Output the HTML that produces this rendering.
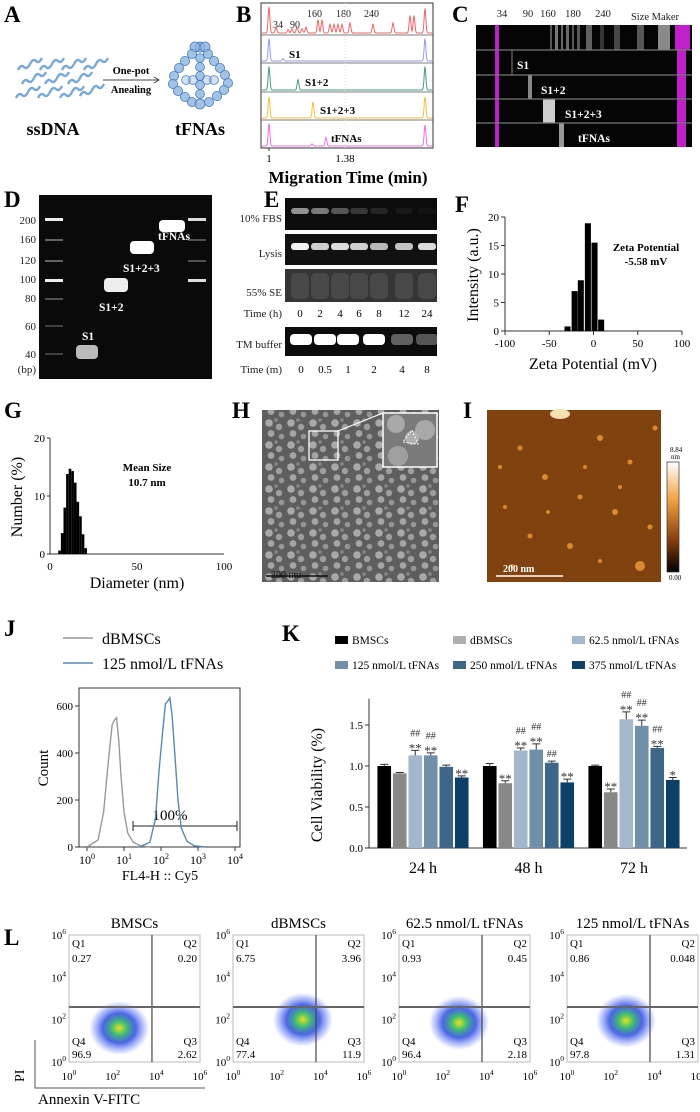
<!DOCTYPE html>
<html><head><meta charset="utf-8">
<style>
html,body{margin:0;padding:0;background:#fff;}
svg{display:block;font-family:"Liberation Serif",serif;}
.pl{font-family:"Liberation Serif",serif;font-weight:bold;font-size:23px;}
</style></head>
<body>
<svg id="fig" width="700" height="1112" viewBox="0 0 700 1112" xmlns="http://www.w3.org/2000/svg">
<defs>
 <linearGradient id="cbar" x1="0" y1="0" x2="0" y2="1">
  <stop offset="0" stop-color="#fff"/><stop offset="0.35" stop-color="#f0a040"/><stop offset="0.7" stop-color="#8a4010"/><stop offset="1" stop-color="#000"/>
 </linearGradient>
 <pattern id="tem" width="22" height="22" patternUnits="userSpaceOnUse">
  <rect width="22" height="22" fill="#5e5e5e"/>
  <circle cx="5" cy="5" r="3.8" fill="#a9a9a9"/>
  <circle cx="15" cy="9" r="3.2" fill="#9e9e9e"/>
  <circle cx="7" cy="15.5" r="3.4" fill="#a4a4a4"/>
  <circle cx="17.5" cy="18.5" r="2.8" fill="#969696"/>
  <circle cx="12" cy="2" r="1.8" fill="#888"/>
 </pattern>
 <radialGradient id="cloud">
  <stop offset="0" stop-color="#e8e020"/><stop offset="0.25" stop-color="#40c070"/><stop offset="0.55" stop-color="#2040e0" stop-opacity="0.8"/><stop offset="1" stop-color="#4060ff" stop-opacity="0"/>
 </radialGradient>
</defs>

<!-- Panel A -->
<g>
 <text class="pl" x="4" y="22">A</text>
 <g fill="none" stroke="#7aa8d8" stroke-width="2.4">
  <path d="M18,70 q3,-6 6,-3 q3,3 6,-3 q3,-6 6,-3 q3,3 6,-3"/>
  <path d="M40,70 q3,-6 6,-3 q3,3 6,-3 q3,-6 6,-3 q3,3 6,-3"/>
  <path d="M62,70 q3,-6 6,-3 q3,3 6,-3 q3,-6 6,-3 q3,3 6,-3"/>
  <path d="M84,70 q3,-6 6,-3 q3,3 6,-3 q3,-6 6,-3 q3,3 6,-3"/>
  <path d="M22,84 q3,-6 6,-3 q3,3 6,-3 q3,-6 6,-3 q3,3 6,-3"/>
  <path d="M45,84 q3,-6 6,-3 q3,3 6,-3 q3,-6 6,-3 q3,3 6,-3"/>
  <path d="M68,84 q3,-6 6,-3 q3,3 6,-3 q3,-6 6,-3 q3,3 6,-3"/>
  <path d="M16,98 q3,-6 6,-3 q3,3 6,-3 q3,-6 6,-3 q3,3 6,-3"/>
  <path d="M38,98 q3,-6 6,-3 q3,3 6,-3 q3,-6 6,-3 q3,3 6,-3"/>
  <path d="M60,98 q3,-6 6,-3 q3,3 6,-3 q3,-6 6,-3 q3,3 6,-3"/>
  <path d="M80,96 q3,-6 6,-3 q3,3 6,-3 q3,-6 6,-3 q3,3 6,-3"/>
 </g>
 <line x1="103" y1="80" x2="158" y2="80" stroke="#444" stroke-width="1"/>
 <path d="M154,77 L159,80 L154,83" fill="none" stroke="#444"/>
 <text x="131" y="74" font-size="10.5" font-weight="bold" text-anchor="middle">One-pot</text>
 <text x="131" y="93" font-size="10.5" font-weight="bold" text-anchor="middle">Anealing</text>
 <g fill="#8ab4e0" fill-opacity="0.8" stroke="#4a7ab8" stroke-width="0.8">
  <circle cx="200" cy="47" r="5"/><circle cx="195" cy="47" r="5"/><circle cx="205" cy="47" r="5"/>
  <circle cx="192" cy="54" r="4.6"/><circle cx="185" cy="61" r="4.6"/><circle cx="179" cy="68" r="4.6"/><circle cx="174" cy="76" r="4.6"/><circle cx="173" cy="84" r="4.6"/><circle cx="178" cy="91" r="4.6"/><circle cx="185" cy="97" r="4.6"/><circle cx="192" cy="102" r="4.6"/><circle cx="200" cy="104" r="5"/>
  <circle cx="208" cy="54" r="4.6"/><circle cx="214" cy="61" r="4.6"/><circle cx="220" cy="68" r="4.6"/><circle cx="225" cy="75" r="4.6"/><circle cx="228" cy="83" r="4.6"/><circle cx="224" cy="90" r="4.6"/><circle cx="217" cy="96" r="4.6"/><circle cx="209" cy="102" r="4.6"/>
  <circle cx="200" cy="58" r="4.4"/><circle cx="200" cy="67" r="4.4"/><circle cx="200" cy="76" r="4.4"/><circle cx="200" cy="85" r="4.4"/><circle cx="200" cy="94" r="4.4"/>
  <circle cx="186" cy="80" r="4.4" fill-opacity="0.4"/><circle cx="193" cy="80" r="4.4" fill-opacity="0.4"/><circle cx="207" cy="80" r="4.4" fill-opacity="0.4"/><circle cx="214" cy="80" r="4.4" fill-opacity="0.4"/>
 </g>
 <text x="53" y="135" font-size="18" font-weight="bold" text-anchor="middle">ssDNA</text>
 <text x="200" y="135" font-size="18" font-weight="bold" text-anchor="middle">tFNAs</text>
</g>

<!-- Panel B -->
<g id="panelB">
 <text class="pl" x="236" y="22">B</text>
 <rect x="261" y="3" width="172" height="145" fill="none" stroke="#333" stroke-width="1"/>
 <text x="269" y="162" font-size="11" text-anchor="middle">1</text>
 <text x="345" y="162" font-size="11" text-anchor="middle">1.38</text>
 <text x="348" y="183" font-size="17" font-weight="bold" text-anchor="middle">Migration Time (min)</text>
 <g font-size="10" fill="#222">
  <text x="273" y="28">34</text>
  <text x="290" y="28">90</text>
  <text x="307" y="17">160</text>
  <text x="336" y="17">180</text>
  <text x="364" y="17">240</text>
 </g>
 <g font-size="11" font-weight="bold">
  <text x="289" y="58">S1</text>
  <text x="305" y="86">S1+2</text>
  <text x="320" y="114">S1+2+3</text>
  <text x="331" y="142">tFNAs</text>
 </g>
</g>

<!-- Panel C -->
<g>
 <text class="pl" x="452" y="22">C</text>
 <g font-size="10.5" fill="#222">
  <text x="502" y="17" text-anchor="middle">34</text>
  <text x="528" y="17" text-anchor="middle">90</text>
  <text x="548" y="17" text-anchor="middle">160</text>
  <text x="573" y="17" text-anchor="middle">180</text>
  <text x="603" y="17" text-anchor="middle">240</text>
  <text x="655" y="20" text-anchor="middle">Size Maker</text>
 </g>
 <rect x="476" y="25" width="216" height="122" fill="#050505"/>
 <g fill="#aaa">
  <rect x="550" y="25" width="2" height="25" opacity="0.5"/><rect x="555" y="25" width="3" height="25" opacity="0.7"/><rect x="561" y="25" width="2" height="25" opacity="0.6"/><rect x="566" y="25" width="3" height="25" opacity="0.6"/><rect x="572" y="25" width="2" height="25" opacity="0.5"/><rect x="577" y="25" width="3" height="25" opacity="0.5"/><rect x="586" y="25" width="6" height="25" opacity="0.55"/><rect x="600" y="25" width="4" height="25" opacity="0.3"/><rect x="614" y="25" width="6" height="25" opacity="0.4"/><rect x="637" y="25" width="7" height="25" opacity="0.5"/><rect x="658" y="25" width="12" height="25" opacity="0.8"/>
 </g>
 <g fill="#c020c8">
  <rect x="495" y="25" width="4" height="122"/>
  <rect x="675" y="25" width="15" height="25"/>
  <rect x="677" y="50" width="9" height="97"/>
 </g>
 <rect x="528" y="75" width="4" height="24" fill="#888"/>
 <rect x="543" y="99" width="12" height="24" fill="#ccc"/>
 <rect x="559" y="123" width="5" height="24" fill="#999"/>
 <rect x="511" y="50" width="2" height="25" fill="#444"/>
 <g stroke="#777" stroke-width="1.2">
  <line x1="476" y1="50" x2="692" y2="50"/><line x1="476" y1="75" x2="692" y2="75"/><line x1="476" y1="99" x2="692" y2="99"/><line x1="476" y1="123" x2="692" y2="123"/>
 </g>
 <g fill="#fff" font-size="11.5" font-weight="bold">
  <text x="517" y="69">S1</text>
  <text x="541" y="94">S1+2</text>
  <text x="565" y="118">S1+2+3</text>
  <text x="578" y="142">tFNAs</text>
 </g>
</g>

<!-- Panel D -->
<g>
 <text class="pl" x="4" y="207">D</text>
 <rect x="39" y="195" width="173" height="184" fill="#0a0a0a"/>
 <g font-size="11" text-anchor="end" fill="#222">
  <text x="36" y="224">200</text>
  <text x="36" y="243">160</text>
  <text x="36" y="264">120</text>
  <text x="36" y="283">100</text>
  <text x="36" y="302">80</text>
  <text x="36" y="330">60</text>
  <text x="36" y="358">40</text>
  <text x="36" y="373">(bp)</text>
 </g>
 <g fill="#bbb">
  <rect x="45" y="218" width="18" height="3" fill="#eee"/><rect x="45" y="239" width="18" height="2" opacity="0.5"/><rect x="45" y="260" width="18" height="2" opacity="0.5"/><rect x="45" y="279" width="18" height="3" fill="#eee"/><rect x="45" y="298" width="18" height="2" opacity="0.4"/><rect x="45" y="325" width="18" height="2" opacity="0.3"/><rect x="45" y="353" width="18" height="2" opacity="0.3"/>
  <rect x="188" y="218" width="18" height="3" fill="#ddd"/><rect x="188" y="239" width="18" height="2" opacity="0.4"/><rect x="188" y="260" width="18" height="2" opacity="0.4"/><rect x="188" y="279" width="18" height="3" fill="#ddd"/>
 </g>
 <rect x="76" y="345" width="22" height="14" rx="4" fill="#bbb"/>
 <rect x="104" y="278" width="24" height="14" rx="4" fill="#eee"/>
 <rect x="130" y="241" width="24" height="13" rx="4" fill="#fff"/>
 <rect x="159" y="220" width="26" height="12" rx="4" fill="#fff"/>
 <g fill="#fff" font-size="11.5" font-weight="bold">
  <text x="82" y="340">S1</text>
  <text x="99" y="311">S1+2</text>
  <text x="123" y="272">S1+2+3</text>
  <text x="158" y="240">tFNAs</text>
 </g>
</g>

<!-- Panel E -->
<g>
 <text class="pl" x="264" y="207">E</text>
 <rect x="285" y="198" width="152" height="32" fill="#0c0c0c"/>
 <rect x="285" y="234" width="152" height="31" fill="#111"/>
 <rect x="285" y="269" width="152" height="33" fill="#353535"/>
 <rect x="285" y="327" width="152" height="29" fill="#0c0c0c"/>
 <g id="eBands"></g>
 <g font-size="11" fill="#222" text-anchor="end">
  <text x="282" y="222">10% FBS</text>
  <text x="282" y="257">Lysis</text>
  <text x="282" y="296">55% SE</text>
  <text x="282" y="317">Time (h)</text>
  <text x="282" y="348">TM buffer</text>
  <text x="282" y="373">Time (m)</text>
 </g>
</g>

<!-- Panel F -->
<g id="panelF">
 <text class="pl" x="455" y="212">F</text>
 <text transform="translate(478,275) rotate(-90)" font-size="16" text-anchor="middle">Intensity (a.u.)</text>
 <text x="593" y="369" font-size="16" text-anchor="middle">Zeta Potential  (mV)</text>
 <text x="646" y="251" font-size="11" font-weight="bold" text-anchor="middle">Zeta Potential</text>
 <text x="646" y="265" font-size="11" font-weight="bold" text-anchor="middle">-5.58 mV</text>
</g>

<!-- Panel G -->
<g id="panelG">
 <text class="pl" x="4" y="418">G</text>
 <text transform="translate(22,497) rotate(-90)" font-size="16" text-anchor="middle">Number (%)</text>
 <text x="137" y="588" font-size="16" text-anchor="middle">Diameter  (nm)</text>
 <text x="147" y="471" font-size="11" font-weight="bold" text-anchor="middle">Mean Size</text>
 <text x="147" y="486" font-size="11" font-weight="bold" text-anchor="middle">10.7  nm</text>
</g>

<!-- Panel H -->
<g>
 <text class="pl" x="232" y="418">H</text>
 <rect x="262" y="410" width="177" height="172" fill="url(#tem)"/>
 <rect x="309" y="431" width="29" height="29" fill="none" stroke="#fff" stroke-width="1.3"/>
 <line x1="338" y1="431" x2="383" y2="413" stroke="#fff" stroke-width="1.2"/>
 <rect x="383" y="413" width="54" height="54" fill="#7a7a7a" stroke="#fff" stroke-width="1.5"/>
 <circle cx="396" cy="424" r="9" fill="#a8a8a8"/>
 <circle cx="425" cy="430" r="10" fill="#a8a8a8"/>
 <circle cx="398" cy="456" r="10" fill="#a0a0a0"/>
 <circle cx="412" cy="438" r="7" fill="#b0b0b0"/>
 <path d="M412,430 L418,444 L403,442 Z" fill="none" stroke="#fff" stroke-dasharray="2,1.5"/>
 <line x1="266" y1="576" x2="328" y2="576" stroke="#111" stroke-width="1.5"/>
 <text x="271" y="578" font-size="10" fill="#111">200 nm</text>
</g>

<!-- Panel I -->
<g>
 <text class="pl" x="463" y="418">I</text>
 <rect x="487" y="410" width="174" height="172" fill="#80420f"/>
 <g fill="#d98a30">
  <ellipse cx="560" cy="414" rx="10" ry="5" fill="#f5e0b0"/>
  <circle cx="520" cy="448" r="2.5"/><circle cx="600" cy="438" r="3"/><circle cx="630" cy="462" r="2.5"/><circle cx="545" cy="477" r="3"/><circle cx="580" cy="497" r="2.5"/><circle cx="505" cy="507" r="2"/><circle cx="615" cy="512" r="3"/><circle cx="650" cy="527" r="2.5"/><circle cx="530" cy="536" r="2.5"/><circle cx="570" cy="546" r="3"/><circle cx="640" cy="566" r="5"/><circle cx="600" cy="561" r="2"/><circle cx="500" cy="467" r="2"/><circle cx="655" cy="428" r="2.5"/><circle cx="585" cy="467" r="2"/><circle cx="620" cy="487" r="2"/><circle cx="548" cy="512" r="2"/><circle cx="512" cy="566" r="2"/>
 </g>
 <line x1="496" y1="576" x2="563" y2="576" stroke="#fff" stroke-width="1.5"/>
 <text x="503" y="572" font-size="10" font-weight="bold" fill="#fff">200 nm</text>
 <rect x="667" y="462" width="12" height="110" fill="url(#cbar)" stroke="#333" stroke-width="0.7"/>
 <text x="670" y="452" font-size="7">8.84</text>
 <text x="671" y="459" font-size="7">nm</text>
 <text x="669" y="580" font-size="7">0.00</text>
</g>

<!-- Panel J -->
<g id="panelJ">
 <text class="pl" x="4" y="636">J</text>
 <line x1="63" y1="638" x2="93" y2="638" stroke="#999" stroke-width="1.5"/>
 <text x="102" y="644" font-size="16">dBMSCs</text>
 <line x1="63" y1="663" x2="93" y2="663" stroke="#5a88b0" stroke-width="1.5"/>
 <text x="102" y="669" font-size="16">125 nmol/L tFNAs</text>
 <rect x="79" y="688" width="161" height="159" fill="none" stroke="#333"/>
 <text transform="translate(48,768) rotate(-90)" font-size="15" text-anchor="middle">Count</text>
 <text x="160" y="880" font-size="14" text-anchor="middle">FL4-H :: Cy5</text>
 <line x1="133" y1="826" x2="237" y2="826" stroke="#222"/>
 <line x1="133" y1="821" x2="133" y2="831" stroke="#222"/>
 <line x1="237" y1="821" x2="237" y2="831" stroke="#222"/>
 <text x="170" y="820" font-size="15" text-anchor="middle">100%</text>
</g>

<!-- Panel K -->
<g id="panelK">
 <text class="pl" x="282" y="641">K</text>
 <text transform="translate(322,785) rotate(-90)" font-size="16" text-anchor="middle">Cell Viability (%)</text>
 <g id="kLegend"></g>
</g>

<!-- Panel L -->
<g id="panelL">
 <text class="pl" x="4" y="945">L</text>
 <text x="24" y="1082" font-size="14" transform="rotate(-90 24 1082)">PI</text>
 <polyline points="35,1040 35,1088 205,1088" fill="none" stroke="#555" stroke-width="1"/>
 <text x="38" y="1104" font-size="15">Annexin V-FITC</text>
</g>
</svg>

<script>
// ---------- Data ----------
const bRowNames = ['marker','s1','s1-2','s1-2-3','tfnas'];
const bMarkerTimes = [1.0,1.035,1.095,1.115,1.14,1.165,1.185,1.245,1.265,1.305,1.325,1.345,1.365,1.405,1.52,1.62,1.705,1.725,1.78];
const bMarkerHeights = [0.9,0.2,0.12,0.15,0.2,0.15,0.2,0.45,0.45,0.3,0.3,0.3,0.3,0.35,0.3,0.35,0.6,0.6,0.85];
const bS1Times = [1.0,1.07,1.78];
const bS1Heights = [0.9,0.1,0.9];
const bS12Times = [1.0,1.145,1.78];
const bS12Heights = [0.9,0.4,0.9];
const bS123Times = [1.0,1.22,1.78];
const bS123Heights = [0.85,0.65,0.85];
const bTfnaTimes = [1.0,1.215,1.285,1.78];
const bTfnaHeights = [0.9,0.08,0.35,0.85];

const eHourLabels = ['0','2','4','6','8','12','24'];
const eFbsIntensity = [0.55,0.45,0.3,0.18,0.1,0.05,0.03];
const eLysisIntensity = [0.95,0.8,0.85,0.8,0.7,0.75,0.85];
const eMinLabels = ['0','0.5','1','2','4','8'];
const eTmIntensity = [1,1,1,1,0.35,0.3];

const fCenters = [-29,-21,-14,-6,1.5,9];
const fValues = [0.8,7,8.9,18.9,15.5,2];
const fYTicks = [0,5,10,15,20];
const fXTicks = [-100,-50,0,50,100];

const gCenters = [5.5,7,8.5,10,11.5,13,14.5,16,17.5,19,20.5];
const gValues = [0.6,3.6,8,13.8,14.7,14.3,12.3,9,6.5,3.4,1];
const gYTicks = [0,10,20];
const gXTicks = [0,50,100];

const jGrayLog = [0.0,0.3,0.45,0.55,0.62,0.68,0.74,0.8,0.86,0.92,1.0,1.1,1.25,1.45,1.7];
const jGrayCount = [0,30,150,320,430,520,540,550,450,300,150,60,20,5,0];
const jBlueLog = [1.4,1.7,1.85,1.95,2.05,2.12,2.18,2.24,2.3,2.38,2.46,2.55,2.7,2.9,3.2];
const jBlueCount = [0,20,120,330,500,610,620,635,560,380,200,80,25,5,0];
const jYTicks = [0,200,400,600];
const jXTicks = [0,1,2,3,4];

const kGroups = ['24 h','48 h','72 h'];
const kSeries = ['BMSCs','dBMSCs','62.5 nmol/L tFNAs','125 nmol/L tFNAs','250 nmol/L tFNAs','375 nmol/L tFNAs'];
const kColors = ['#000000','#888888','#a3b8cc','#7090aa','#3d6688','#0e3f66'];
const kSwatchColors = ['#000000','#b0b0b0','#a3b8cc','#7090aa','#3d6688','#0e3f66'];
const k24 = [1.0,0.91,1.13,1.13,0.99,0.86];
const k48 = [1.0,0.79,1.19,1.2,1.04,0.8];
const k72 = [1.0,0.68,1.57,1.49,1.22,0.83];
const k24Err = [0.02,0.01,0.06,0.03,0.02,0.02];
const k48Err = [0.03,0.03,0.03,0.07,0.02,0.04];
const k72Err = [0.01,0.04,0.09,0.07,0.02,0.03];
const k24Sig = ['','','##|**','##|**','','**'];
const k48Sig = ['','**','##|**','##|**','##','**'];
const k72Sig = ['','**','##|**','##|**','##|**','*'];
const kYTicks = [0.0,0.5,1.0,1.5];

const lTitles = ['BMSCs','dBMSCs','62.5 nmol/L tFNAs','125 nmol/L tFNAs'];
const lQ1 = ['0.27','6.75','0.93','0.86'];
const lQ2 = ['0.20','3.96','0.45','0.048'];
const lQ3 = ['2.62','11.9','2.18','1.31'];
const lQ4 = ['96.9','77.4','96.4','97.8'];
const lCloudX = [2.3,3.2,2.75,2.7];
const lCloudY = [1.6,2.0,1.85,1.95];
const lGateX = [3.8,3.8,3.8,3.8];
const lGateY = [2.6,2.6,2.6,2.6];

// ---------- helpers ----------
const NS = 'http://www.w3.org/2000/svg';
function mk(tag, attrs, parent){
  const el = document.createElementNS(NS, tag);
  for (const k in attrs) el.setAttribute(k, attrs[k]);
  (parent || document.getElementById('fig')).appendChild(el);
  return el;
}
function txt(parent, x, y, s, size, anchor, extra){
  const a = Object.assign({x:x, y:y, 'font-size':size, 'text-anchor':anchor||'middle'}, extra||{});
  const t = mk('text', a, parent);
  t.textContent = s;
  return t;
}

// ---------- Panel B ----------
(function(){
  const g = document.getElementById('panelB');
  const xB = t => 269 + (t - 1) * 200;
  const rows = [[3,35],[35,63],[63,92],[92,120],[120,148]];
  const colors = ['#f06565','#9a9af2','#4a9a8a','#f4c040','#f070e0'];
  const times = [bMarkerTimes,bS1Times,bS12Times,bS123Times,bTfnaTimes];
  const heights = [bMarkerHeights,bS1Heights,bS12Heights,bS123Heights,bTfnaHeights];
  for (let r=0;r<5;r++){
    if (r>0){
      const l = mk('line',{x1:261,y1:rows[r][0],x2:433,y2:rows[r][0],stroke:'#555','stroke-width':0.8},g);
      
      
    }
    const base = rows[r][1]-2, H = rows[r][1]-rows[r][0]-3;
    let d='';
    for (let px=262; px<=432; px+=0.5){
      const t = 1 + (px-269)/200;
      let y = base;
      times[r].forEach((tp,i)=>{ y -= heights[r][i]*H*Math.exp(-Math.pow((t-tp)/0.006,2)); });
      d += (d?' L':'M') + px.toFixed(1)+','+y.toFixed(1);
    }
    const p = mk('path',{d:d,fill:'none',stroke:colors[r],'stroke-width':1},g);
    
    
  }
  const t1 = mk('line',{x1:xB(1),y1:148,x2:xB(1),y2:151,stroke:'#333'},g);
  
  
  const dl = mk('line',{x1:xB(1.38),y1:3,x2:xB(1.38),y2:148,stroke:'#ddd','stroke-dasharray':'1,2'},g);
  
  
})();

// ---------- Panel E ----------
(function(){
  const g = document.getElementById('eBands');
  const hx = [300,320,340,359,379,404,427];
  const mx = [301,325,348,374,402,427];
  eHourLabels.forEach((s,i)=>{
    const a = mk('rect',{x:hx[i]-9,y:208,width:18,height:6,rx:3,fill:'#fff',opacity:eFbsIntensity[i]},g);
    
    
    const b = mk('rect',{x:hx[i]-9,y:243,width:18,height:7,rx:3,fill:'#fff',opacity:eLysisIntensity[i]},g);
    
    
    const c = mk('rect',{x:hx[i]-9,y:273,width:18,height:26,rx:5,fill:'#555',opacity:0.6},g);
    
    
    const t = txt(g, hx[i], 317, s, 11);
    
    
  });
  eMinLabels.forEach((s,i)=>{
    const a = mk('rect',{x:mx[i]-11,y:334,width:22,height:11,rx:4,fill:'#fff',opacity:eTmIntensity[i]},g);
    
    
    const t = txt(g, mx[i], 373, s, 11);
    
    
  });
})();

// ---------- Panel F ----------
(function(){
  const g = document.getElementById('panelF');
  const xF = v => 505 + (v+100)/200*177;
  const yF = c => 331 - c/20*114;
  const ax = mk('path',{d:`M505,${yF(20)} L505,331 L682,331`,fill:'none',stroke:'#333'},g);
  
  
  fYTicks.forEach(v=>{
    const l = mk('line',{x1:501,y1:yF(v),x2:505,y2:yF(v),stroke:'#333'},g);
    
    
    const t = txt(g, 499, yF(v)+4, String(v), 11, 'end');
    
    
  });
  fXTicks.forEach(v=>{
    const l = mk('line',{x1:xF(v),y1:331,x2:xF(v),y2:335,stroke:'#333'},g);
    
    
    const t = txt(g, xF(v), 347, String(v), 11);
    
    
  });
  fCenters.forEach((c,i)=>{
    const w = xF(3.75)-xF(-3.75);
    const b = mk('rect',{x:xF(c)-w/2,y:yF(fValues[i]),width:w-0.6,height:331-yF(fValues[i]),fill:'#000'},g);
    
    
  });
})();

// ---------- Panel G ----------
(function(){
  const g = document.getElementById('panelG');
  const xG = d => 50 + d/100*174;
  const yG = n => 554 - n/20*116;
  const ax = mk('path',{d:`M50,${yG(20)} L50,554 L224,554`,fill:'none',stroke:'#333'},g);
  
  
  gYTicks.forEach(v=>{
    const t = txt(g, 45, yG(v)+4, String(v), 11, 'end');
    
    
    const l = mk('line',{x1:47,y1:yG(v),x2:50,y2:yG(v),stroke:'#333'},g);
    
    
  });
  gXTicks.forEach(v=>{
    const t = txt(g, xG(v), 570, String(v), 11);
    
    
  });
  gCenters.forEach((c,i)=>{
    const w = xG(1.5)-xG(0);
    const b = mk('rect',{x:xG(c)-w/2,y:yG(gValues[i]),width:w,height:554-yG(gValues[i]),fill:'#000'},g);
    
    
  });
})();

// ---------- Panel J ----------
(function(){
  const g = document.getElementById('panelJ');
  const xJ = l => 87 + l*37;
  const yJ = c => 847 - c*0.235;
  jYTicks.forEach(v=>{
    const l = mk('line',{x1:75,y1:yJ(v),x2:79,y2:yJ(v),stroke:'#333'},g);
    
    
    const t = txt(g, 73, yJ(v)+4, String(v), 11, 'end');
    
    
  });
  jXTicks.forEach(v=>{
    const l = mk('line',{x1:xJ(v),y1:847,x2:xJ(v),y2:851,stroke:'#333'},g);
    
    
    const t = mk('text',{x:xJ(v),y:864,'font-size':12,'text-anchor':'middle'},g);
    t.innerHTML = '10<tspan dy="-5" font-size="8">'+v+'</tspan>';
    
    
  });
  const gp = mk('polyline',{points:jGrayLog.map((l,i)=>xJ(l)+','+yJ(jGrayCount[i])).join(' '),fill:'none',stroke:'#999','stroke-width':1.4},g);
  
  
  const bp = mk('polyline',{points:jBlueLog.map((l,i)=>xJ(l)+','+yJ(jBlueCount[i])).join(' '),fill:'none',stroke:'#5a88b0','stroke-width':1.4},g);
  
  
})();

// ---------- Panel K ----------
(function(){
  const g = document.getElementById('panelK');
  const yK = v => 848 - v*82;
  const gc = i => 423 + i*105.5;
  const lg = document.getElementById('kLegend');
  const lx = [335,453,572];
  kSeries.forEach((s,i)=>{
    const x = lx[i%3], y = i<3 ? 640 : 665;
    const r = mk('rect',{x:x,y:y-4,width:13,height:8,fill:kSwatchColors[i]},lg);
    
    
    const t = txt(lg, x+17, y+4, s, 11.5, 'start');
    
    
  });
  const ax = mk('path',{d:`M369,${yK(1.82)} L369,848 L687,848`,fill:'none',stroke:'#333'},g);
  
  
  kYTicks.forEach(v=>{
    const l = mk('line',{x1:365,y1:yK(v),x2:369,y2:yK(v),stroke:'#333'},g);
    
    
    const t = txt(g, 363, yK(v)+4, v.toFixed(1), 11, 'end');
    
    
  });
  const vals = [k24,k48,k72], errs=[k24Err,k48Err,k72Err], sigs=[k24Sig,k48Sig,k72Sig];
  kGroups.forEach((grp,gi)=>{
    const t = txt(g, gc(gi), 873, grp, 16);
    
    
    vals[gi].forEach((v,i)=>{
      const cx = gc(gi) + (i-2.5)*15.5;
      const b = mk('rect',{x:cx-6.8,y:yK(v),width:13.6,height:848-yK(v),fill:kColors[i]},g);
      
      
      const top = yK(v+errs[gi][i]);
      const e = mk('path',{d:`M${cx},${yK(v)} L${cx},${top} M${cx-4},${top} L${cx+4},${top}`,stroke:'#333','stroke-width':1,fill:'none'},g);
      
      
      const sg = sigs[gi][i];
      if (sg){
        const parts = sg.split('|');
        let yy = top - 4;
        for (let k=parts.length-1;k>=0;k--){
          const s = txt(g, cx, yy + (parts[k].indexOf('*')>=0?6:0), parts[k], parts[k].indexOf('*')>=0?13:10, 'middle', {fill:'#333'});
          
          
          yy -= 10;
        }
      }
    });
  });
})();

// ---------- Panel L ----------
(function(){
  const g = document.getElementById('panelL');
  const x0 = [69,233,399,567], W = 131, top = 935, bot = 1062;
  lTitles.forEach((title,p)=>{
    const xL = l => x0[p] + l/6*W;
    const yL = l => bot - l/6*(bot-top);
    const t = txt(g, x0[p]+W/2, 928, title, 15);
    
    
    const fr = mk('rect',{x:x0[p],y:top,width:W,height:bot-top,fill:'#fff',stroke:'#bbb'},g);
    
    
    const c1 = mk('ellipse',{cx:xL(lCloudX[p]),cy:yL(lCloudY[p]),rx:30,ry:27,fill:'url(#cloud)'},g);
    
    
    const vq = mk('line',{x1:xL(lGateX[p]),y1:top,x2:xL(lGateX[p]),y2:bot,stroke:'#444','stroke-width':1.2},g);
    
    
    const hq = mk('line',{x1:x0[p],y1:yL(lGateY[p]),x2:x0[p]+W,y2:yL(lGateY[p]),stroke:'#666','stroke-width':2},g);
    
    
    [0,2,4,6].forEach(v=>{
      const ty = mk('text',{x:x0[p]-3,y:yL(v)+4,'font-size':11,'text-anchor':'end'},g);
      ty.innerHTML = '10<tspan dy="-5" font-size="7.5">'+v+'</tspan>';
      
      
      const tx = mk('text',{x:xL(v),y:bot+18,'font-size':11,'text-anchor':'middle'},g);
      tx.innerHTML = '10<tspan dy="-5" font-size="7.5">'+v+'</tspan>';
      
      
    });
    const qs = [['Q1',x0[p]+3,top+12,'start'],[lQ1[p],x0[p]+3,top+27,'start'],['Q2',x0[p]+W-3,top+12,'end'],[lQ2[p],x0[p]+W-3,top+27,'end'],
                ['Q4',x0[p]+3,top+110,'start'],[lQ4[p],x0[p]+3,top+123,'start'],['Q3',x0[p]+W-3,top+110,'end'],[lQ3[p],x0[p]+W-3,top+123,'end']];
    qs.forEach(q=>{
      const e = txt(g, q[1], q[2], q[0], 11, q[3]);
      
      
    });
  });
})();
</script>
</body></html>
